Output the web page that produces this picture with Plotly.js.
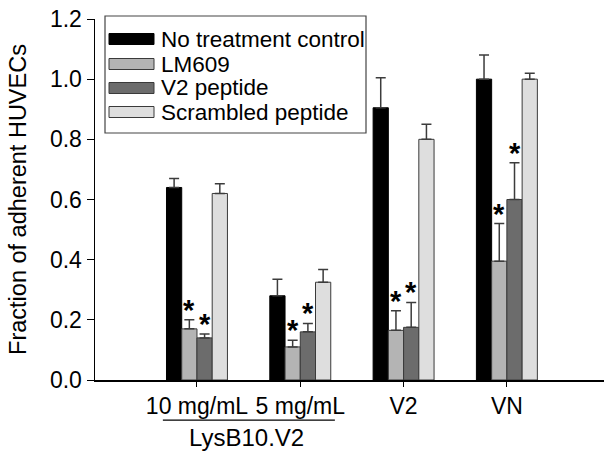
<!DOCTYPE html>
<html>
<head>
<meta charset="utf-8">
<script src="https://cdn.plot.ly/plotly-3.0.1.min.js"></script>
<style>html,body{margin:0;padding:0;background:#fff;}#chart{width:613px;height:459px;}</style>
</head>
<body>
<div id="chart"></div>
<script>
// ---- data ----
const categories = ['10 mg/mL', '5 mg/mL', 'V2', 'VN'];
const seriesNames = ['No treatment control', 'LM609', 'V2 peptide', 'Scrambled peptide'];
const noTreatment = [0.64, 0.28, 0.905, 1.0];
const noTreatmentErr = [0.03, 0.055, 0.10, 0.08];
const lm609 = [0.17, 0.11, 0.165, 0.395];
const lm609Err = [0.03, 0.022, 0.065, 0.125];
const v2Peptide = [0.14, 0.16, 0.175, 0.60];
const v2PeptideErr = [0.013, 0.028, 0.083, 0.122];
const scrambled = [0.62, 0.325, 0.80, 1.0];
const scrambledErr = [0.032, 0.042, 0.05, 0.02];
// significance marks: [series index, category index]
const stars = [[1,0],[2,0],[1,1],[2,1],[1,2],[2,2],[1,3],[2,3]];
const groupLabel = 'LysB10.V2';
const yTitle = 'Fraction of adherent HUVECs';

// ---- style ----
const fills = ['#000000', '#b4b4b4', '#6c6c6c', '#dedede'];
const outlines = ['#000000', '#3a3a3a', '#3a3a3a', '#3a3a3a'];
const values = [noTreatment, lm609, v2Peptide, scrambled];
const errs = [noTreatmentErr, lm609Err, v2PeptideErr, scrambledErr];
const FONT = 'Liberation Sans, Arial, sans-serif';
const bargap = 0.41;
const nS = values.length;
const barW = (1 - bargap) / nS;

const traces = values.map((v, i) => ({
  type: 'bar', x: categories, y: v, name: seriesNames[i], showlegend: false,
  marker: {color: fills[i], line: {color: outlines[i], width: 1}},
  error_y: {type: 'data', symmetric: false, array: errs[i], arrayminus: v.map(() => 0),
            color: '#3c3c3c', thickness: 1.5, width: 5},
  hoverinfo: 'skip'
}));

const annotations = [];
const shapes = [];
stars.forEach(([s, c]) => {
  annotations.push({
    x: c + (s - (nS - 1) / 2) * barW, xref: 'x',
    y: values[s][c] + errs[s][c], yref: 'y',
    text: '<b>*</b>', showarrow: false, yanchor: 'bottom', xanchor: 'center',
    yshift: -8, font: {family: FONT, size: 29, color: '#000'}
  });
});

// group bracket under the first two categories
shapes.push({type: 'line', xref: 'x', yref: 'paper', x0: -0.33, x1: 1.335, y0: -0.111, y1: -0.111,
             line: {color: '#000', width: 1.2}});
annotations.push({x: 0.48, xref: 'x', y: -0.158, yref: 'paper', text: groupLabel, showarrow: false,
                  xanchor: 'center', yanchor: 'middle', font: {family: FONT, size: 24, color: '#000'}});

// custom legend (paper coords computed from plot area 95..604 x 19..380)
const W = 613, H = 459, L = 95, R = 9, T = 19, B = 79;
const pw = W - L - R, ph = H - T - B;
const px = v => (v - L) / pw;
const py = v => (H - B - v) / ph;
shapes.push({type: 'rect', xref: 'paper', yref: 'paper', x0: px(105), x1: px(366), y0: py(133), y1: py(16),
             line: {color: '#444', width: 1.2}, fillcolor: '#fff'});
const rowY = [39, 64, 88, 112];
seriesNames.forEach((n, i) => {
  shapes.push({type: 'rect', xref: 'paper', yref: 'paper', x0: px(109), x1: px(154),
               y0: py(rowY[i] + 5.5), y1: py(rowY[i] - 5.5),
               fillcolor: fills[i], line: {color: outlines[i], width: 1}});
  annotations.push({x: px(159), xref: 'paper', y: py(rowY[i]), yref: 'paper', text: n, showarrow: false,
                    xanchor: 'left', yanchor: 'middle', font: {family: FONT, size: 22.5, color: '#000'}});
});

const layout = {
  width: W, height: H,
  margin: {l: L, r: R, t: T, b: B, pad: 0},
  paper_bgcolor: '#fff', plot_bgcolor: '#fff',
  barmode: 'group', bargap: bargap, bargroupgap: 0,
  font: {family: FONT, size: 23, color: '#000'},
  xaxis: {type: 'category', range: [-0.987, 3.94], showgrid: false, zeroline: false,
          showline: true, linecolor: '#000', linewidth: 1.5,
          ticks: 'outside', ticklen: 5, tickwidth: 1, tickcolor: '#000',
          tickfont: {family: FONT, size: 23, color: '#000'}},
  yaxis: {range: [0, 1.2], dtick: 0.2, tickformat: '.1f', showgrid: false, zeroline: false,
          showline: true, linecolor: '#000', linewidth: 1.5,
          ticks: 'outside', ticklen: 7, tickwidth: 1, tickcolor: '#000',
          tickfont: {family: FONT, size: 23, color: '#000'},
          title: {text: yTitle, font: {family: FONT, size: 23.5, color: '#000'}, standoff: 16}},
  shapes: shapes, annotations: annotations
};

Plotly.newPlot('chart', traces, layout, {displayModeBar: false, staticPlot: true});
</script>
</body>
</html>
